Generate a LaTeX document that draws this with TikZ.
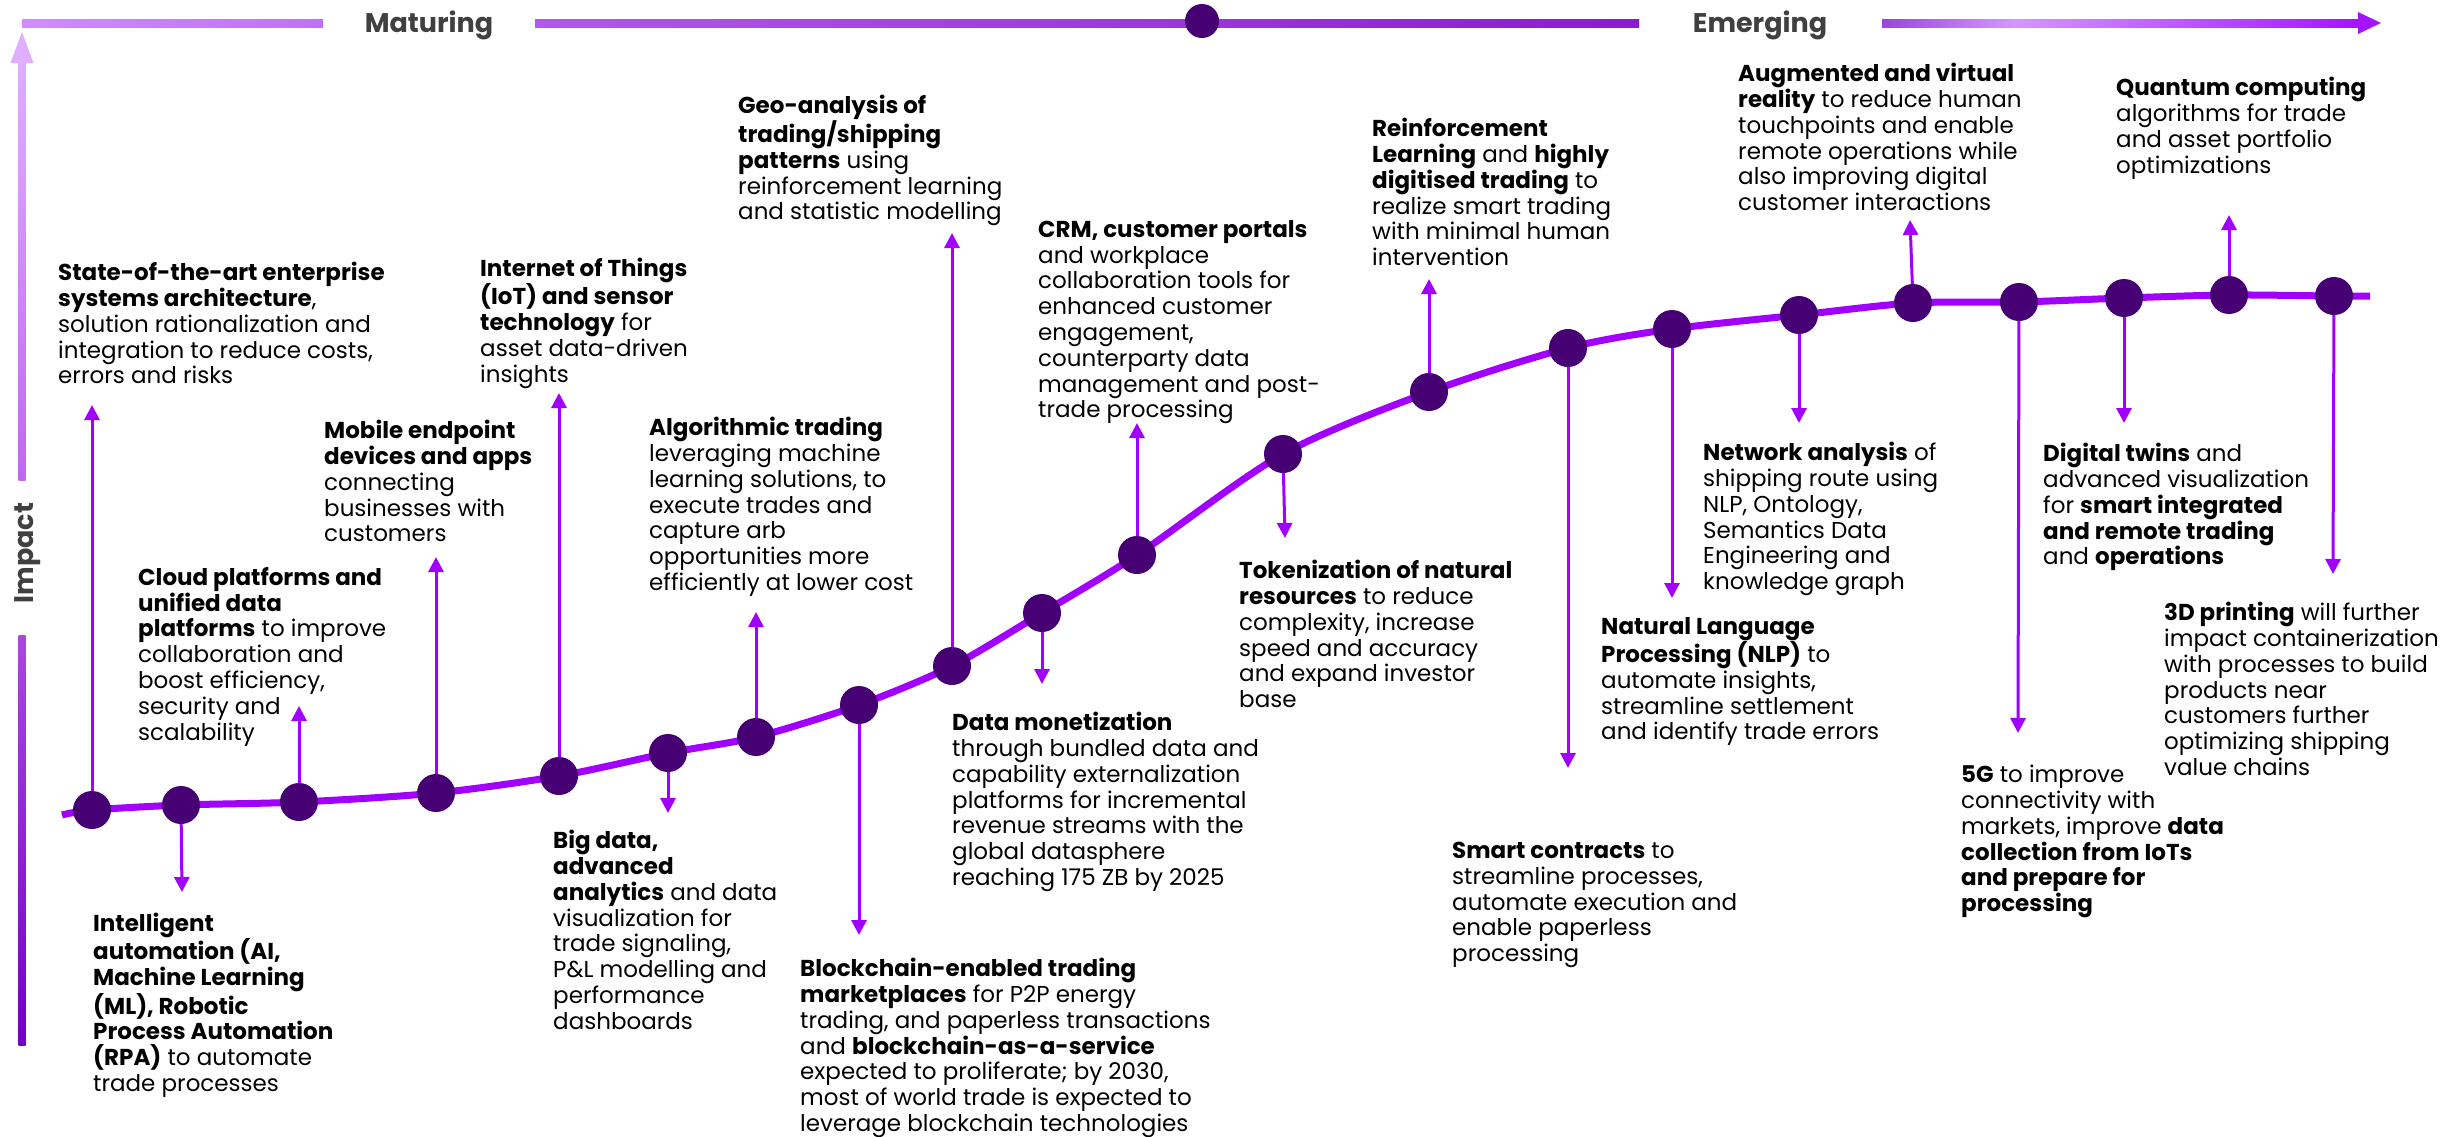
\documentclass[tikz,border=0pt]{standalone}
\usepackage{fontspec}
\setmainfont{Poppins}
\usetikzlibrary{arrows.meta}
\definecolor{acc}{HTML}{A100FF}
\definecolor{dk}{HTML}{460073}
\definecolor{gry}{HTML}{404040}
\definecolor{barA}{HTML}{CF8CFF}
\definecolor{barB}{HTML}{C070F5}
\definecolor{barC}{HTML}{B258EA}
\definecolor{barD}{HTML}{9A35DA}
\definecolor{barE}{HTML}{8C1BCD}
\definecolor{barF}{HTML}{9A45DD}
\definecolor{barG}{HTML}{D596FF}
\definecolor{barH}{HTML}{A514FF}
\definecolor{axA}{HTML}{DFAEFF}
\definecolor{axB}{HTML}{BE68F0}
\definecolor{axC}{HTML}{AA48E0}
\definecolor{axD}{HTML}{7200C2}
\tikzset{
  lbl/.style={anchor=north west, inner sep=0pt, align=left, text=black, font=\fontsize{23}{25.8}\selectfont},
  dot/.style={circle, fill=dk, draw=none, minimum size=38pt, inner sep=0pt},
  conn/.style={draw=acc, line width=3pt, -{Triangle[width=15pt,length=15pt]}},
  head/.style={inner sep=0pt, anchor=base, text=gry, font=\fontsize{27}{30}\selectfont\bfseries},
}
\begin{document}
\begin{tikzpicture}[x=1pt,y=-1pt]
\useasboundingbox (0,0) rectangle (2458,1136);
\fill[white] (0,0) rectangle (2458,1136);
% ---- top bar
\shade[left color=barA, right color=barB] (22,19) rectangle (323,27);
\shade[left color=barC, right color=barD] (535,19) rectangle (1202,27);
\shade[left color=barD, right color=barE] (1202,19) rectangle (1639,27);
\shade[left color=barF, right color=barG] (1882,19) rectangle (2014,27);
\shade[left color=barG, right color=barH] (2014,19) rectangle (2360,27);
\fill[barH] (2358,12) -- (2381,23) -- (2358,34) -- cycle;
\node[dot, minimum size=34pt] (mid) at (1202,21) {};
\node[head] (mat) at (429,32) {Maturing};
\node[head] (emg) at (1760,32) {Emerging};
% ---- left axis
\shade[top color=axA, bottom color=axB] (18.5,62) rectangle (25.5,480);
\fill[axA] (22,32) -- (33.5,63) -- (10.5,63) -- cycle;
\shade[top color=axC, bottom color=axD] (18.5,635) rectangle (25.5,1045);
\node[head, rotate=90] (imp) at (33,553) {Impact};
% ---- curve
\foreach \n/\x/\y in {1/92/810, 2/181/805, 3/299/802, 4/436/793, 5/559/776, 6/668/753, 7/756/737,
  8/859/705, 9/952/666, 10/1042/613, 11/1137/555, 12/1283/454, 13/1429/392, 14/1568/348,
  15/1672/329, 16/1799/315, 17/1913/303, 18/2019/302, 19/2124/298, 20/2229/295, 21/2334/296}
  {\coordinate (p\n) at (\x,\y);}
\draw[acc, line width=7pt] plot[smooth, tension=0.5] coordinates {(62,815) (p1) (p2) (p3) (p4) (p5) (p6) (p7) (p8) (p9) (p10) (p11) (p12) (p13) (p14) (p15) (p16) (p17) (p18) (p19) (p20) (p21) (2370,296)};
\foreach \n in {1,...,21} {\node[dot] (d\n) at (p\n) {};}
% ---- arrow tips
\coordinate (e1) at (92,405);
\coordinate (e2) at (182,892);
\coordinate (e3) at (299,706);
\coordinate (e4) at (436,557);
\coordinate (e5) at (559,393);
\coordinate (e6) at (668,813);
\coordinate (e7) at (756,612);
\coordinate (e8) at (859,935);
\coordinate (e9) at (952,233);
\coordinate (e10) at (1042,684);
\coordinate (e11) at (1137,423);
\coordinate (e12) at (1285,538);
\coordinate (e13) at (1429,279);
\coordinate (e14) at (1568,768);
\coordinate (e15) at (1672,598);
\coordinate (e16) at (1799,423);
\coordinate (e17) at (1910,220);
\coordinate (e18) at (2018,733);
\coordinate (e19) at (2124,423);
\coordinate (e20) at (2229,215);
\coordinate (e21) at (2333,574);
\foreach \n in {1,...,21} {\draw[conn] (d\n) -- (e\n);}
% ---- labels
\node[lbl] (t1) at (58,262) {\textbf{State-of-the-art enterprise}\\\textbf{systems architecture},\\solution rationalization and\\integration to reduce costs,\\errors and risks};
\node[lbl] (t2) at (93,913) {\textbf{Intelligent}\\\textbf{automation (AI,}\\\textbf{Machine Learning}\\\textbf{(ML), Robotic}\\\textbf{Process Automation}\\\textbf{(RPA)} to automate\\trade processes};
\node[lbl] (t3) at (138,567) {\textbf{Cloud platforms and}\\\textbf{unified data}\\\textbf{platforms} to improve\\collaboration and\\boost efficiency,\\security and\\scalability};
\node[lbl] (t4) at (324,420) {\textbf{Mobile endpoint}\\\textbf{devices and apps}\\connecting\\businesses with\\customers};
\node[lbl] (t5) at (480,258) {\textbf{Internet of Things}\\\textbf{(IoT) and sensor}\\\textbf{technology} for\\asset data-driven\\insights};
\node[lbl] (t6) at (553,830) {\textbf{Big data,}\\\textbf{advanced}\\\textbf{analytics} and data\\visualization for\\trade signaling,\\P\&L modelling and\\performance\\dashboards};
\node[lbl] (t7) at (649,417) {\textbf{Algorithmic trading}\\leveraging machine\\learning solutions, to\\execute trades and\\capture arb\\opportunities more\\efficiently at lower cost};
\node[lbl] (t8) at (800,958) {\textbf{Blockchain-enabled trading}\\\textbf{marketplaces} for P2P energy\\trading, and paperless transactions\\and \textbf{blockchain-as-a-service}\\expected to proliferate; by 2030,\\most of world trade is expected to\\leverage blockchain technologies};
\node[lbl] (t9) at (738,95) {\textbf{Geo-analysis of}\\\textbf{trading/shipping}\\\textbf{patterns} using\\reinforcement learning\\and statistic modelling};
\node[lbl] (t10) at (952,712) {\textbf{Data monetization}\\through bundled data and\\capability externalization\\platforms for incremental\\revenue streams with the\\global datasphere\\reaching 175 ZB by 2025};
\node[lbl] (t11) at (1038,220) {\textbf{CRM, customer portals}\\and workplace\\collaboration tools for\\enhanced customer\\engagement,\\counterparty data\\management and post-\\trade processing};
\node[lbl] (t12) at (1239,560) {\textbf{Tokenization of natural}\\\textbf{resources} to reduce\\complexity, increase\\speed and accuracy\\and expand investor\\base};
\node[lbl] (t13) at (1372,118) {\textbf{Reinforcement}\\\textbf{Learning} and \textbf{highly}\\\textbf{digitised trading} to\\realize smart trading\\with minimal human\\intervention};
\node[lbl] (t14) at (1452,842) {\textbf{Smart contracts} to\\streamline processes,\\automate execution and\\enable paperless\\processing};
\node[lbl] (t15) at (1601,617) {\textbf{Natural Language}\\\textbf{Processing (NLP)} to\\automate insights,\\streamline settlement\\and identify trade errors};
\node[lbl] (t16) at (1703,442) {\textbf{Network analysis} of\\shipping route using\\NLP, Ontology,\\Semantics Data\\Engineering and\\knowledge graph};
\node[lbl] (t17) at (1738,63) {\textbf{Augmented and virtual}\\\textbf{reality} to reduce human\\touchpoints and enable\\remote operations while\\also improving digital\\customer interactions};
\node[lbl] (t18) at (1961,765) {\textbf{5G} to improve\\connectivity with\\markets, improve \textbf{data}\\\textbf{collection from IoTs}\\\textbf{and prepare for}\\\textbf{processing}};
\node[lbl] (t19) at (2043,443) {\textbf{Digital twins} and\\advanced visualization\\for \textbf{smart integrated}\\\textbf{and remote trading}\\and \textbf{operations}};
\node[lbl] (t20) at (2116,77) {\textbf{Quantum computing}\\algorithms for trade\\and asset portfolio\\optimizations};
\node[lbl] (t21) at (2164,602) {\textbf{3D printing} will further\\impact containerization\\with processes to build\\products near\\customers further\\optimizing shipping\\value chains};
\end{tikzpicture}
\end{document}
